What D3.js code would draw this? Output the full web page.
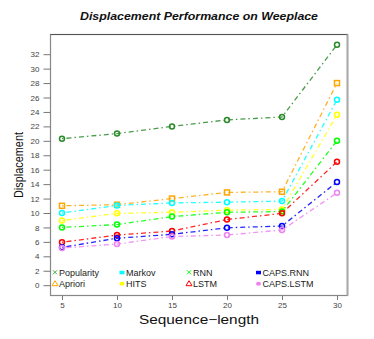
<!DOCTYPE html>
<html><head><meta charset="utf-8">
<script src="https://cdn.jsdelivr.net/npm/d3@7/dist/d3.min.js"></script>
<style>body{margin:0;background:#fff}svg{display:block}text{font-family:"Liberation Sans",Arial,sans-serif}</style>
</head><body><svg id="c" width="374" height="339"></svg>
<script>
const seqLen = [5, 10, 15, 20, 25, 30];
const yTicks = [0,2,4,6,8,10,12,14,16,18,20,22,24,26,28,30,32];
const seriesNames = ["Popularity","Apriori","Markov","HITS","RNN","LSTM","CAPS.RNN","CAPS.LSTM"];
const popularity = [20.3, 21.0, 22.0, 22.9, 23.3, 33.3];
const apriori    = [11.0, 11.15, 12.0, 12.85, 12.95, 28.0];
const markov     = [10.0, 11.05, 11.4, 11.5, 11.65, 25.7];
const hits       = [8.95, 9.95, 10.1, 10.4, 10.5, 23.6];
const rnn        = [8.0, 8.4, 9.5, 10.1, 10.2, 20.0];
const lstm       = [5.95, 6.95, 7.5, 9.1, 9.95, 17.1];
const capsRnn    = [5.25, 6.5, 7.05, 7.95, 8.2, 14.3];
const capsLstm   = [5.15, 5.7, 6.75, 6.95, 7.65, 12.8];
const seriesValues = [popularity, apriori, markov, hits, rnn, lstm, capsRnn, capsLstm];
const colors = ["#2a8a2a","#ffa500","#00ffff","#ffff00","#00ff00","#ff0000","#0000ff","#ee82ee"];
const plotMarks = ["circle","square","circle","circle","circle","circle","circle","circle"];
const legendMarks = ["x","triangle","fsquare","fcircle","x","triangle","fsquare","fcircle"];

const svg = d3.select("#c");
const x = d3.scaleLinear().domain([5,30]).range([62,337]);
const y = d3.scaleLinear().domain([0,32]).range([285.2,54.2]);

// box
svg.append("rect").attr("x",50.5).attr("y",34.5).attr("width",297).attr("height",261)
  .attr("fill","none").attr("stroke","#888").attr("stroke-width",1.2);
svg.append("line").attr("x1",50.5).attr("x2",347.5).attr("y1",34.5).attr("y2",34.5).attr("stroke","#555").attr("stroke-width",1.2);
svg.append("line").attr("x1",347.5).attr("x2",347.5).attr("y1",34.5).attr("y2",295.5).attr("stroke","#aaa").attr("stroke-width",2);

// y axis
const ya = svg.append("g").attr("transform","translate(43.5,0)")
  .call(d3.axisLeft(y).tickValues(yTicks).tickSize(-7).tickPadding(12).tickFormat(d3.format("d")));
ya.select(".domain").remove();
ya.selectAll(".tick line").attr("stroke","#777");
ya.selectAll(".tick text").attr("font-size",8).attr("fill","#444").attr("x",-4).attr("font-family","Liberation Sans, Arial, sans-serif");

// x axis
const xa = svg.append("g").attr("transform","translate(0,296)")
  .call(d3.axisBottom(x).tickValues(seqLen).tickSize(4).tickPadding(2).tickFormat(d3.format("d")));
xa.select(".domain").remove();
xa.selectAll(".tick line").attr("stroke","#777");
xa.selectAll(".tick text").attr("font-size",8).attr("fill","#444").attr("font-family","Liberation Sans, Arial, sans-serif");

// titles
svg.append("text").attr("x",199).attr("y",20).attr("text-anchor","middle")
  .attr("font-size",10.5).attr("font-weight","bold").attr("font-style","italic").attr("fill","#111")
  .attr("textLength",238).attr("lengthAdjust","spacingAndGlyphs")
  .text("Displacement  Performance on  Weeplace");
svg.append("text").attr("x",199).attr("y",323.5).attr("text-anchor","middle")
  .attr("font-size",12.5).attr("fill","#111").attr("textLength",120).attr("lengthAdjust","spacingAndGlyphs")
  .text("Sequence\u2212length");
svg.append("text").attr("transform","translate(23,165) rotate(-90)").attr("text-anchor","middle")
  .attr("font-size",13).attr("fill","#111").attr("textLength",66).attr("lengthAdjust","spacingAndGlyphs")
  .text("Displacement");

// lines
const line = d3.line().x((d,i)=>x(seqLen[i])).y(d=>y(d));
seriesValues.forEach((vals,k)=>{
  const g = svg.append("g");
  g.append("path").attr("d",line(vals)).attr("fill","none").attr("stroke",colors[k])
    .attr("stroke-width",1.3).attr("stroke-dasharray","1.5,3,5,3").attr("opacity",0.85);
  vals.forEach((v,i)=>{
    if (plotMarks[k]==="square") {
      g.append("rect").attr("x",x(seqLen[i])-2.5).attr("y",y(v)-2.5).attr("width",5).attr("height",5)
        .attr("fill","none").attr("stroke",colors[k]).attr("stroke-width",1.5);
    } else {
      g.append("circle").attr("cx",x(seqLen[i])).attr("cy",y(v)).attr("r",2.5)
        .attr("fill","none").attr("stroke",colors[k]).attr("stroke-width",1.5);
    }
  });
});

// legend
const legColX = [55, 122, 189, 258.5];
const legRowY = [272.3, 283.7];
seriesNames.forEach((name,k)=>{
  const cx = legColX[Math.floor(k/2)], cy = legRowY[k%2];
  const g = svg.append("g");
  const c = colors[k];
  const m = legendMarks[k];
  if (m==="x") {
    g.append("path").attr("d",`M${cx-2},${cy-2}L${cx+2},${cy+2}M${cx-2},${cy+2}L${cx+2},${cy-2}`).attr("stroke",k===0?"#44aa44":c).attr("stroke-width",1);
  } else if (m==="triangle") {
    g.append("path").attr("d",`M${cx},${cy-3}L${cx+3},${cy+2}L${cx-3},${cy+2}Z`).attr("fill","none").attr("stroke",c).attr("stroke-width",1);
  } else if (m==="fsquare") {
    g.append("rect").attr("x",cx-2.5).attr("y",cy-1.5).attr("width",5).attr("height",3.5).attr("fill",c);
  } else {
    g.append("ellipse").attr("cx",cx).attr("cy",cy).attr("rx",2.5).attr("ry",2).attr("fill",c);
  }
  g.append("text").attr("x",cx+4).attr("y",cy+3.3).attr("font-size",9).attr("fill","#222").text(name);
});
</script></body></html>
